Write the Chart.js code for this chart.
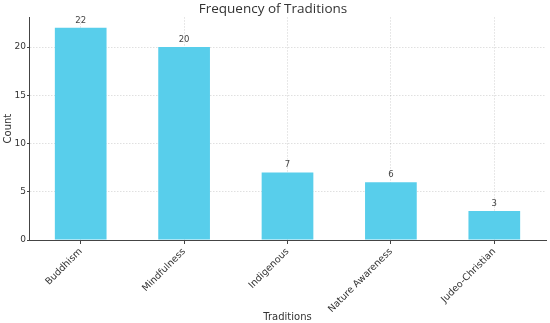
<!DOCTYPE html>
<html>
<head>
<meta charset="utf-8">
<script src="https://cdn.jsdelivr.net/npm/chart.js@4"></script>
<style>
  html, body { margin: 0; padding: 0; background: #fff; }
  #wrap { width: 550px; height: 323px; }
</style>
</head>
<body>
<div id="wrap"><canvas id="chart" width="550" height="323"></canvas></div>
<script>
// Data
const traditions = ['Buddhism', 'Mindfulness', 'Indigenous', 'Nature Awareness', 'Judeo-Christian'];
const counts = [22, 20, 7, 6, 3];
const yTicks = [0, 5, 10, 15, 20];

const barColor = '#58CEEB';
const textColor = '#333333';

// Value labels above each bar
const barValueLabels = {
  id: 'barValueLabels',
  afterDatasetsDraw(chart) {
    const ctx = chart.ctx;
    const meta = chart.getDatasetMeta(0);
    ctx.save();
    ctx.font = '8.5px "DejaVu Sans"';
    ctx.fillStyle = '#444';
    ctx.textAlign = 'center';
    ctx.textBaseline = 'bottom';
    meta.data.forEach((bar, i) => {
      ctx.fillText(String(counts[i]), bar.x, bar.y - 3);
    });
    ctx.restore();
  },
};

new Chart(document.getElementById('chart').getContext('2d'), {
  type: 'bar',
  data: {
    labels: traditions,
    datasets: [
      {
        label: 'Count',
        data: counts,
        backgroundColor: barColor,
        borderWidth: 0,
        barPercentage: 0.5,
        categoryPercentage: 1.0,
      },
    ],
  },
  options: {
    responsive: false,
    animation: false,
    layout: {padding: {left: 0, right: 4, top: 0, bottom: 0}},
    plugins: {
      legend: {display: false},
      tooltip: {enabled: false},
      title: {
        display: true,
        text: 'Frequency of Traditions',
        color: textColor,
        font: {family: '"Open Sans"', size: 13.5, weight: 'normal'},
        padding: {top: 1, bottom: 0},
      },
    },
    scales: {
      x: {
        offset: true,
        grid: {
          offset: false,
          color: 'rgba(0,0,0,0.12)',
          tickColor: '#444',
          tickLength: 4,
        },
        border: {display: true, color: '#444', width: 1, dash: [1.5, 1.5]},
        ticks: {
          color: textColor,
          font: {family: '"DejaVu Sans"', size: 9.5},
          minRotation: 45,
          maxRotation: 45,
          padding: 2,
        },
        title: {
          display: true,
          text: 'Traditions',
          color: textColor,
          font: {family: '"DejaVu Sans"', size: 10},
          padding: {top: 0, bottom: 0},
        },
        afterFit(scale) {
          scale.height = 83;
        },
      },
      y: {
        min: 0,
        max: 23.1,
        afterBuildTicks(scale) {
          scale.ticks = yTicks.map((v) => ({value: v}));
        },
        grid: {
          color: 'rgba(0,0,0,0.12)',
          tickColor: '#444',
          tickLength: 2,
        },
        border: {display: true, color: '#444', width: 1, dash: [1.5, 1.5]},
        ticks: {
          color: textColor,
          font: {family: '"DejaVu Sans"', size: 9},
          padding: 1,
        },
        title: {
          display: true,
          text: 'Count',
          color: textColor,
          font: {family: '"DejaVu Sans"', size: 10},
          padding: {top: 2, bottom: 0},
        },
        afterFit(scale) {
          scale.width = 29;
        },
      },
    },
  },
  plugins: [barValueLabels],
});
</script>
</body>
</html>
